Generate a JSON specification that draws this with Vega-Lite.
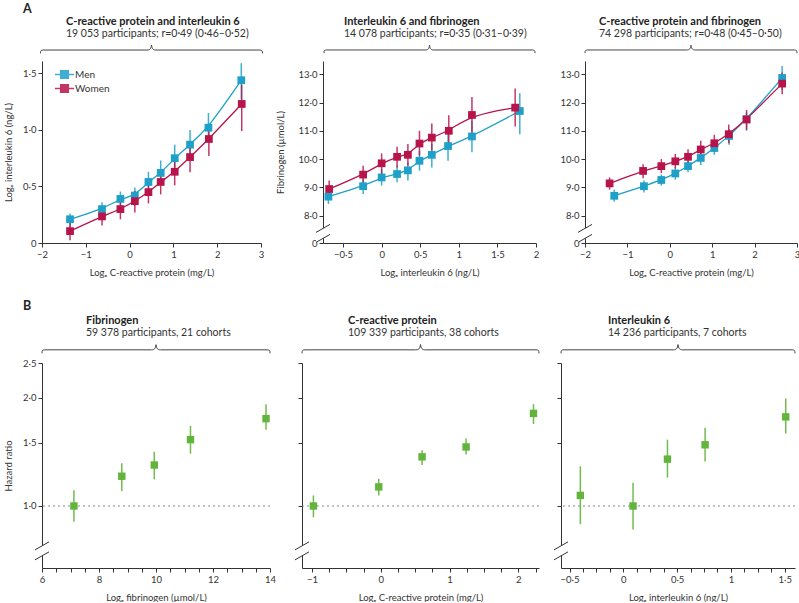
{
  "$schema": "https://vega.github.io/schema/vega-lite/v6.json",
  "padding": {"left": 3, "top": 2, "right": 0, "bottom": 0},
  "background": "white",
  "config": {
    "font": "Lato",
    "view": {"stroke": null},
    "axis": {"domainColor": "#333", "tickColor": "#333", "labelColor": "#333", "titleColor": "#333", "labelFontSize": 9.5, "titleFontSize": 9.5, "titleFontWeight": "normal", "tickSize": 4, "labelPadding": 2, "grid": false, "labelFlush": false, "labelOverlap": false},
    "axisX": {"titlePadding": 9},
    "title": {"anchor": "start", "frame": "group", "fontSize": 11, "fontWeight": "bold", "color": "#222", "subtitleFontSize": 10.5, "subtitleColor": "#333", "subtitlePadding": 2, "offset": 5}
  },
  "datasets": {
    "a1": [
      {"sex": "Men", "x": -1.36, "y": 0.21, "lo": 0.14, "hi": 0.26},
      {"sex": "Men", "x": -0.63, "y": 0.30, "lo": 0.24, "hi": 0.36},
      {"sex": "Men", "x": -0.21, "y": 0.39, "lo": 0.32, "hi": 0.455},
      {"sex": "Men", "x": 0.12, "y": 0.42, "lo": 0.33, "hi": 0.49},
      {"sex": "Men", "x": 0.43, "y": 0.54, "lo": 0.45, "hi": 0.63},
      {"sex": "Men", "x": 0.71, "y": 0.62, "lo": 0.51, "hi": 0.73},
      {"sex": "Men", "x": 1.03, "y": 0.75, "lo": 0.64, "hi": 0.87},
      {"sex": "Men", "x": 1.38, "y": 0.87, "lo": 0.74, "hi": 1.0},
      {"sex": "Men", "x": 1.80, "y": 1.02, "lo": 0.90, "hi": 1.15},
      {"sex": "Men", "x": 2.55, "y": 1.44, "lo": 1.27, "hi": 1.59},
      {"sex": "Women", "x": -1.36, "y": 0.105, "lo": 0.025, "hi": 0.21},
      {"sex": "Women", "x": -0.63, "y": 0.235, "lo": 0.155, "hi": 0.33},
      {"sex": "Women", "x": -0.21, "y": 0.30, "lo": 0.21, "hi": 0.40},
      {"sex": "Women", "x": 0.12, "y": 0.37, "lo": 0.27, "hi": 0.46},
      {"sex": "Women", "x": 0.43, "y": 0.45, "lo": 0.35, "hi": 0.55},
      {"sex": "Women", "x": 0.71, "y": 0.54, "lo": 0.43, "hi": 0.65},
      {"sex": "Women", "x": 1.03, "y": 0.63, "lo": 0.51, "hi": 0.74},
      {"sex": "Women", "x": 1.38, "y": 0.76, "lo": 0.625, "hi": 0.90},
      {"sex": "Women", "x": 1.81, "y": 0.92, "lo": 0.77, "hi": 1.05},
      {"sex": "Women", "x": 2.56, "y": 1.23, "lo": 0.99, "hi": 1.40}
    ],
    "a2": [
      {"sex": "Men", "x": -0.69, "y": 8.67, "lo": 8.41, "hi": 8.88},
      {"sex": "Men", "x": -0.24, "y": 9.04, "lo": 8.76, "hi": 9.29},
      {"sex": "Men", "x": 0.0, "y": 9.35, "lo": 9.06, "hi": 9.65},
      {"sex": "Men", "x": 0.20, "y": 9.47, "lo": 9.18, "hi": 9.76},
      {"sex": "Men", "x": 0.34, "y": 9.60, "lo": 9.24, "hi": 9.88},
      {"sex": "Men", "x": 0.49, "y": 9.94, "lo": 9.59, "hi": 10.29},
      {"sex": "Men", "x": 0.65, "y": 10.15, "lo": 9.70, "hi": 10.53},
      {"sex": "Men", "x": 0.86, "y": 10.46, "lo": 9.94, "hi": 10.88},
      {"sex": "Men", "x": 1.17, "y": 10.80, "lo": 10.24, "hi": 11.35},
      {"sex": "Men", "x": 1.79, "y": 11.70, "lo": 10.88, "hi": 12.33},
      {"sex": "Women", "x": -0.68, "y": 8.94, "lo": 8.65, "hi": 9.24},
      {"sex": "Women", "x": -0.24, "y": 9.45, "lo": 9.12, "hi": 9.76},
      {"sex": "Women", "x": 0.0, "y": 9.85, "lo": 9.47, "hi": 10.20},
      {"sex": "Women", "x": 0.20, "y": 10.08, "lo": 9.70, "hi": 10.44},
      {"sex": "Women", "x": 0.34, "y": 10.15, "lo": 9.76, "hi": 10.53},
      {"sex": "Women", "x": 0.49, "y": 10.55, "lo": 10.12, "hi": 11.00},
      {"sex": "Women", "x": 0.65, "y": 10.76, "lo": 10.30, "hi": 11.26},
      {"sex": "Women", "x": 0.87, "y": 11.00, "lo": 10.41, "hi": 11.55},
      {"sex": "Women", "x": 1.17, "y": 11.56, "lo": 10.94, "hi": 12.20},
      {"sex": "Women", "x": 1.73, "y": 11.82, "lo": 11.15, "hi": 12.50}
    ],
    "a3": [
      {"sex": "Men", "x": -1.31, "y": 8.70, "lo": 8.49, "hi": 8.92},
      {"sex": "Men", "x": -0.61, "y": 9.04, "lo": 8.82, "hi": 9.24},
      {"sex": "Men", "x": -0.20, "y": 9.26, "lo": 9.06, "hi": 9.45},
      {"sex": "Men", "x": 0.13, "y": 9.49, "lo": 9.27, "hi": 9.71},
      {"sex": "Men", "x": 0.43, "y": 9.75, "lo": 9.53, "hi": 9.96},
      {"sex": "Men", "x": 0.73, "y": 10.04, "lo": 9.79, "hi": 10.26},
      {"sex": "Men", "x": 1.05, "y": 10.39, "lo": 10.15, "hi": 10.62},
      {"sex": "Men", "x": 1.40, "y": 10.82, "lo": 10.51, "hi": 11.06},
      {"sex": "Men", "x": 1.81, "y": 11.41, "lo": 11.00, "hi": 11.65},
      {"sex": "Men", "x": 2.65, "y": 12.87, "lo": 12.45, "hi": 13.29},
      {"sex": "Women", "x": -1.42, "y": 9.14, "lo": 8.92, "hi": 9.35},
      {"sex": "Women", "x": -0.63, "y": 9.58, "lo": 9.32, "hi": 9.82},
      {"sex": "Women", "x": -0.20, "y": 9.75, "lo": 9.50, "hi": 10.00},
      {"sex": "Women", "x": 0.13, "y": 9.92, "lo": 9.67, "hi": 10.18},
      {"sex": "Women", "x": 0.43, "y": 10.08, "lo": 9.82, "hi": 10.35},
      {"sex": "Women", "x": 0.73, "y": 10.34, "lo": 10.06, "hi": 10.65},
      {"sex": "Women", "x": 1.05, "y": 10.56, "lo": 10.27, "hi": 10.86},
      {"sex": "Women", "x": 1.39, "y": 10.88, "lo": 10.56, "hi": 11.22},
      {"sex": "Women", "x": 1.81, "y": 11.40, "lo": 11.04, "hi": 11.74},
      {"sex": "Women", "x": 2.65, "y": 12.67, "lo": 12.29, "hi": 13.06}
    ],
    "b1": [
      {"x": 7.12, "hr": 1.00, "lo": 0.904, "hi": 1.106},
      {"x": 8.80, "hr": 1.21, "lo": 1.10, "hi": 1.315},
      {"x": 9.94, "hr": 1.30, "lo": 1.186, "hi": 1.416},
      {"x": 11.21, "hr": 1.53, "lo": 1.398, "hi": 1.67},
      {"x": 13.86, "hr": 1.75, "lo": 1.63, "hi": 1.92}
    ],
    "b2": [
      {"x": -0.98, "hr": 1.00, "lo": 0.93, "hi": 1.07},
      {"x": -0.03, "hr": 1.13, "lo": 1.07, "hi": 1.19},
      {"x": 0.60, "hr": 1.37, "lo": 1.30, "hi": 1.43},
      {"x": 1.24, "hr": 1.46, "lo": 1.39, "hi": 1.54},
      {"x": 2.22, "hr": 1.81, "lo": 1.69, "hi": 1.92}
    ],
    "b3": [
      {"x": -0.40, "hr": 1.07, "lo": 0.89, "hi": 1.29},
      {"x": 0.09, "hr": 1.00, "lo": 0.86, "hi": 1.16},
      {"x": 0.41, "hr": 1.35, "lo": 1.20, "hi": 1.53},
      {"x": 0.76, "hr": 1.48, "lo": 1.33, "hi": 1.65},
      {"x": 1.51, "hr": 1.77, "lo": 1.59, "hi": 1.99}
    ]
  },
  "resolve": {"scale": {"color": "independent"}, "legend": {"color": "independent"}},
  "spacing": 22,
  "vconcat": [
    {
      "title": {"text": "A", "fontSize": 12.5, "fontWeight": "bold", "dx": -19, "offset": 1},
      "spacing": 10,
      "resolve": {"scale": {"color": "independent"}, "legend": {"color": "independent"}},
      "hconcat": [
        {
          "width": 219, "height": 182,
          "title": {"text": "C-reactive protein and interleukin 6", "subtitle": "19 053 participants; r=0·49 (0·46–0·52)", "dx": 24, "offset": 3.5},
          "data": {"name": "a1"},
          "layer": [
            {"data": {"values": [{}]}, "mark": {"type": "point", "shape": "M-1,0.03 C-1,0.005 -0.995,0 -0.975,0 L-0.04,0 C-0.015,0 -0.005,-0.01 0,-0.045 C0.005,-0.01 0.015,0 0.04,0 L0.975,0 C0.995,0 1,0.005 1,0.03", "filled": false, "size": 49284, "stroke": "#444", "strokeWidth": 1, "opacity": 1},
             "encoding": {"x": {"datum": 0.5, "type": "quantitative"}, "y": {"datum": 1.707, "type": "quantitative"}}},
            {"mark": {"type": "line", "interpolate": "basis", "strokeWidth": 1.3},
             "encoding": {
               "x": {"field": "x", "type": "quantitative", "scale": {"domain": [-2, 3], "nice": false, "zero": false}, "axis": {"title": "Logₑ C-reactive protein (mg/L)", "values": [-2, -1, 0, 1, 2, 3], "tickCount": 50, "labelExpr": "replace(format(datum.value, 'd'), '-', '−')", "labelOverlap": false}},
               "y": {"field": "y", "type": "quantitative", "scale": {"domain": [0, 1.61], "nice": false, "zero": false}, "axis": {"title": "Logₑ interleukin 6 (ng/L)", "values": [0, 0.5, 1, 1.5], "tickCount": 50, "labelExpr": "datum.value === 0 ? '0' : replace(format(datum.value, '.1f'), '.', '·')", "minExtent": 20, "titlePadding": 9, "labelOverlap": false}},
               "color": {"field": "sex", "type": "nominal", "scale": {"domain": ["Men", "Women"], "range": ["#1ea0c8", "#b7144b"]},
                 "legend": {"title": null, "orient": "none", "legendX": 17, "legendY": 8, "symbolType": "M-2,0L2,0M-0.8,-0.8L0.8,-0.8L0.8,0.8L-0.8,0.8Z", "symbolSize": 90, "symbolStrokeWidth": 1.5, "labelOffset": 5, "labelFontSize": 10, "labelColor": "#333", "rowPadding": -1, "padding": 0}}
             }},
            {"mark": {"type": "rule", "strokeWidth": 1.5, "opacity": 0.85},
             "encoding": {"x": {"field": "x", "type": "quantitative"}, "y": {"field": "lo", "type": "quantitative"}, "y2": {"field": "hi"}, "color": {"field": "sex", "type": "nominal"}}},
            {"mark": {"type": "point", "shape": "square", "filled": true, "size": 60, "opacity": 1},
             "encoding": {"x": {"field": "x", "type": "quantitative"}, "y": {"field": "y", "type": "quantitative"}, "color": {"field": "sex", "type": "nominal"}}}
          ]
        },
        {
          "width": 213, "height": 182,
          "title": {"text": "Interleukin 6 and fibrinogen", "subtitle": "14 078 participants; r=0·35 (0·31–0·39)", "dx": 21, "offset": 3.5},
          "data": {"name": "a2"},
          "layer": [
            {"data": {"values": [{}]}, "mark": {"type": "point", "shape": "M-1,0.03 C-1,0.005 -0.995,0 -0.975,0 L-0.04,0 C-0.015,0 -0.005,-0.01 0,-0.045 C0.005,-0.01 0.015,0 0.04,0 L0.975,0 C0.995,0 1,0.005 1,0.03", "filled": false, "size": 44521, "stroke": "#444", "strokeWidth": 1, "opacity": 1},
             "encoding": {"x": {"datum": 0.62, "type": "quantitative"}, "y": {"datum": 13.86, "type": "quantitative"}}},
            {"data": {"values": [{}]}, "mark": {"type": "point", "shape": "M-0.7,-0.1L0.7,-0.9L0.7,0.1L-0.7,0.9Z", "filled": true, "fill": "white", "strokeWidth": 0, "size": 400, "opacity": 1},
             "encoding": {"x": {"datum": -0.76, "type": "quantitative"}, "y": {"datum": 7.37, "type": "quantitative"}}},
            {"data": {"values": [{}]}, "mark": {"type": "point", "shape": "M-0.7,-0.1L0.7,-0.9M-0.7,0.9L0.7,0.1", "filled": false, "stroke": "#333", "strokeWidth": 1, "size": 400, "opacity": 1},
             "encoding": {"x": {"datum": -0.76, "type": "quantitative"}, "y": {"datum": 7.37, "type": "quantitative"}}},
            {"mark": {"type": "line", "interpolate": "basis", "strokeWidth": 1.3},
             "encoding": {
               "x": {"field": "x", "type": "quantitative", "scale": {"domain": [-0.76, 2], "nice": false, "zero": false}, "axis": {"title": "Logₑ interleukin 6 (ng/L)", "values": [-0.5, 0, 0.5, 1, 1.5, 2], "tickCount": 50, "labelExpr": "replace(replace(format(datum.value, '~g'), '.', '·'), '-', '−')", "labelOverlap": false}},
               "y": {"field": "y", "type": "quantitative", "scale": {"domain": [7.03, 13.47], "nice": false, "zero": false}, "axis": {"title": "Fibrinogen (µmol/L)", "values": [7.03, 8, 9, 10, 11, 12, 13], "tickCount": 50, "labelExpr": "datum.value < 7.5 ? '0' : replace(format(datum.value, '.1f'), '.', '·')", "minExtent": 28, "titlePadding": 10, "labelOverlap": false}},
               "color": {"field": "sex", "type": "nominal", "scale": {"domain": ["Men", "Women"], "range": ["#1ea0c8", "#b7144b"]}, "legend": null}
             }},
            {"mark": {"type": "rule", "strokeWidth": 1.5, "opacity": 0.85},
             "encoding": {"x": {"field": "x", "type": "quantitative"}, "y": {"field": "lo", "type": "quantitative"}, "y2": {"field": "hi"}, "color": {"field": "sex", "type": "nominal", "legend": null}}},
            {"mark": {"type": "point", "shape": "square", "filled": true, "size": 60, "opacity": 1},
             "encoding": {"x": {"field": "x", "type": "quantitative"}, "y": {"field": "y", "type": "quantitative"}, "color": {"field": "sex", "type": "nominal", "legend": null}}}
          ]
        },
        {
          "width": 212, "height": 182,
          "title": {"text": "C-reactive protein and fibrinogen", "subtitle": "74 298 participants; r=0·48 (0·45–0·50)", "dx": 14, "offset": 3.5},
          "data": {"name": "a3"},
          "layer": [
            {"data": {"values": [{}]}, "mark": {"type": "point", "shape": "M-1,0.03 C-1,0.005 -0.995,0 -0.975,0 L-0.04,0 C-0.015,0 -0.005,-0.01 0,-0.045 C0.005,-0.01 0.015,0 0.04,0 L0.975,0 C0.995,0 1,0.005 1,0.03", "filled": false, "size": 44944, "stroke": "#444", "strokeWidth": 1, "opacity": 1},
             "encoding": {"x": {"datum": 0.5, "type": "quantitative"}, "y": {"datum": 13.86, "type": "quantitative"}}},
            {"data": {"values": [{}]}, "mark": {"type": "point", "shape": "M-0.7,-0.1L0.7,-0.9L0.7,0.1L-0.7,0.9Z", "filled": true, "fill": "white", "strokeWidth": 0, "size": 400, "opacity": 1},
             "encoding": {"x": {"datum": -2, "type": "quantitative"}, "y": {"datum": 7.37, "type": "quantitative"}}},
            {"data": {"values": [{}]}, "mark": {"type": "point", "shape": "M-0.7,-0.1L0.7,-0.9M-0.7,0.9L0.7,0.1", "filled": false, "stroke": "#333", "strokeWidth": 1, "size": 400, "opacity": 1},
             "encoding": {"x": {"datum": -2, "type": "quantitative"}, "y": {"datum": 7.37, "type": "quantitative"}}},
            {"mark": {"type": "line", "interpolate": "basis", "strokeWidth": 1.3},
             "encoding": {
               "x": {"field": "x", "type": "quantitative", "scale": {"domain": [-2, 3], "nice": false, "zero": false}, "axis": {"title": "Logₑ C-reactive protein (mg/L)", "values": [-2, -1, 0, 1, 2, 3], "tickCount": 50, "labelExpr": "replace(format(datum.value, 'd'), '-', '−')", "labelOverlap": false}},
               "y": {"field": "y", "type": "quantitative", "scale": {"domain": [7.03, 13.47], "nice": false, "zero": false}, "axis": {"title": null, "values": [7.03, 8, 9, 10, 11, 12, 13], "tickCount": 50, "labelExpr": "datum.value < 7.5 ? '0' : replace(format(datum.value, '.1f'), '.', '·')", "minExtent": 36, "labelOverlap": false}},
               "color": {"field": "sex", "type": "nominal", "scale": {"domain": ["Men", "Women"], "range": ["#1ea0c8", "#b7144b"]}, "legend": null}
             }},
            {"mark": {"type": "rule", "strokeWidth": 1.5, "opacity": 0.85},
             "encoding": {"x": {"field": "x", "type": "quantitative"}, "y": {"field": "lo", "type": "quantitative"}, "y2": {"field": "hi"}, "color": {"field": "sex", "type": "nominal", "legend": null}}},
            {"mark": {"type": "point", "shape": "square", "filled": true, "size": 60, "opacity": 1},
             "encoding": {"x": {"field": "x", "type": "quantitative"}, "y": {"field": "y", "type": "quantitative"}, "color": {"field": "sex", "type": "nominal", "legend": null}}}
          ]
        }
      ]
    },
    {
      "title": {"text": "B", "fontSize": 12.5, "fontWeight": "bold", "dx": -19, "offset": 3},
      "spacing": 9,
      "hconcat": [
        {
          "width": 228, "height": 205,
          "title": {"text": "Fibrinogen", "subtitle": "59 378 participants, 21 cohorts", "dx": 44, "offset": 4},
          "data": {"name": "b1"},
          "layer": [
            {"data": {"values": [{}]}, "mark": {"type": "point", "shape": "M-1,0.03 C-1,0.005 -0.995,0 -0.975,0 L-0.04,0 C-0.015,0 -0.005,-0.01 0,-0.045 C0.005,-0.01 0.015,0 0.04,0 L0.975,0 C0.995,0 1,0.005 1,0.03", "filled": false, "size": 51984, "stroke": "#444", "strokeWidth": 1, "opacity": 1},
             "encoding": {"x": {"datum": 10, "type": "quantitative"}, "y": {"datum": 2.72, "type": "quantitative"}}},
            {"data": {"values": [{}]}, "mark": {"type": "rule", "strokeDash": [2, 3], "color": "#7d8b96", "strokeWidth": 1},
             "encoding": {"y": {"datum": 1, "type": "quantitative"}}},
            {"data": {"values": [{}]}, "mark": {"type": "point", "shape": "M-0.7,-0.1L0.7,-0.9L0.7,0.1L-0.7,0.9Z", "filled": true, "fill": "white", "strokeWidth": 0, "size": 400, "opacity": 1},
             "encoding": {"x": {"datum": 6, "type": "quantitative"}, "y": {"datum": 0.75, "type": "quantitative"}}},
            {"data": {"values": [{}]}, "mark": {"type": "point", "shape": "M-0.7,-0.1L0.7,-0.9M-0.7,0.9L0.7,0.1", "filled": false, "stroke": "#333", "strokeWidth": 1, "size": 400, "opacity": 1},
             "encoding": {"x": {"datum": 6, "type": "quantitative"}, "y": {"datum": 0.75, "type": "quantitative"}}},
            {"mark": {"type": "rule", "strokeWidth": 1.5, "color": "#62b43c", "opacity": 0.9},
             "encoding": {"x": {"field": "x", "type": "quantitative"}, "y": {"field": "lo", "type": "quantitative"}, "y2": {"field": "hi"}}},
            {"mark": {"type": "point", "shape": "square", "filled": true, "size": 55, "color": "#62b43c", "opacity": 1},
             "encoding": {
               "x": {"field": "x", "type": "quantitative", "scale": {"domain": [6, 14], "nice": false, "zero": false}, "axis": {"title": "Logₑ fibrinogen (µmol/L)", "values": [6, 6.5, 7, 7.5, 8, 8.5, 9, 9.5, 10, 10.5, 11, 11.5, 12, 12.5, 13, 13.5, 14], "tickCount": 50, "labelExpr": "datum.value % 2 === 0 ? format(datum.value, 'd') : ''", "labelOverlap": false}},
               "y": {"field": "hr", "type": "quantitative", "scale": {"type": "log", "domain": [0.672, 2.5], "nice": false, "zero": false}, "axis": {"title": "Hazard ratio", "values": [1, 1.5, 2, 2.5], "tickCount": 50, "labelExpr": "replace(format(datum.value, '.1f'), '.', '·')", "minExtent": 20, "titlePadding": 9, "labelOverlap": false}}
             }}
          ]
        },
        {
          "width": 237, "height": 205,
          "title": {"text": "C-reactive protein", "subtitle": "109 339 participants, 38 cohorts", "dx": 46, "offset": 4},
          "data": {"name": "b2"},
          "layer": [
            {"data": {"values": [{}]}, "mark": {"type": "point", "shape": "M-1,0.03 C-1,0.005 -0.995,0 -0.975,0 L-0.04,0 C-0.015,0 -0.005,-0.01 0,-0.045 C0.005,-0.01 0.015,0 0.04,0 L0.975,0 C0.995,0 1,0.005 1,0.03", "filled": false, "size": 56169, "stroke": "#444", "strokeWidth": 1, "opacity": 1},
             "encoding": {"x": {"datum": 0.577, "type": "quantitative"}, "y": {"datum": 2.72, "type": "quantitative"}}},
            {"data": {"values": [{}]}, "mark": {"type": "rule", "strokeDash": [2, 3], "color": "#7d8b96", "strokeWidth": 1},
             "encoding": {"y": {"datum": 1, "type": "quantitative"}}},
            {"data": {"values": [{}]}, "mark": {"type": "point", "shape": "M-0.7,-0.1L0.7,-0.9L0.7,0.1L-0.7,0.9Z", "filled": true, "fill": "white", "strokeWidth": 0, "size": 400, "opacity": 1},
             "encoding": {"x": {"datum": -1.146, "type": "quantitative"}, "y": {"datum": 0.75, "type": "quantitative"}}},
            {"data": {"values": [{}]}, "mark": {"type": "point", "shape": "M-0.7,-0.1L0.7,-0.9M-0.7,0.9L0.7,0.1", "filled": false, "stroke": "#333", "strokeWidth": 1, "size": 400, "opacity": 1},
             "encoding": {"x": {"datum": -1.146, "type": "quantitative"}, "y": {"datum": 0.75, "type": "quantitative"}}},
            {"mark": {"type": "rule", "strokeWidth": 1.5, "color": "#62b43c", "opacity": 0.9},
             "encoding": {"x": {"field": "x", "type": "quantitative"}, "y": {"field": "lo", "type": "quantitative"}, "y2": {"field": "hi"}}},
            {"mark": {"type": "point", "shape": "square", "filled": true, "size": 55, "color": "#62b43c", "opacity": 1},
             "encoding": {
               "x": {"field": "x", "type": "quantitative", "scale": {"domain": [-1.146, 2.3], "nice": false, "zero": false}, "axis": {"title": "Logₑ C-reactive protein (mg/L)", "values": [-1, -0.75, -0.5, -0.25, 0, 0.25, 0.5, 0.75, 1, 1.25, 1.5, 1.75, 2, 2.25], "tickCount": 50, "labelExpr": "datum.value % 1 === 0 ? replace(format(datum.value, 'd'), '-', '−') : ''", "labelOverlap": false}},
               "y": {"field": "hr", "type": "quantitative", "scale": {"type": "log", "domain": [0.672, 2.5], "nice": false, "zero": false}, "axis": {"title": null, "values": [1, 1.5, 2, 2.5], "tickCount": 50, "labels": false, "minExtent": 17}}
             }}
          ]
        },
        {
          "width": 234, "height": 205,
          "title": {"text": "Interleukin 6", "subtitle": "14 236 participants, 7 cohorts", "dx": 47, "offset": 4},
          "data": {"name": "b3"},
          "layer": [
            {"data": {"values": [{}]}, "mark": {"type": "point", "shape": "M-1,0.03 C-1,0.005 -0.995,0 -0.975,0 L-0.04,0 C-0.015,0 -0.005,-0.01 0,-0.045 C0.005,-0.01 0.015,0 0.04,0 L0.975,0 C0.995,0 1,0.005 1,0.03", "filled": false, "size": 54756, "stroke": "#444", "strokeWidth": 1, "opacity": 1},
             "encoding": {"x": {"datum": 0.508, "type": "quantitative"}, "y": {"datum": 2.72, "type": "quantitative"}}},
            {"data": {"values": [{}]}, "mark": {"type": "rule", "strokeDash": [2, 3], "color": "#7d8b96", "strokeWidth": 1},
             "encoding": {"y": {"datum": 1, "type": "quantitative"}}},
            {"data": {"values": [{}]}, "mark": {"type": "point", "shape": "M-0.7,-0.1L0.7,-0.9L0.7,0.1L-0.7,0.9Z", "filled": true, "fill": "white", "strokeWidth": 0, "size": 400, "opacity": 1},
             "encoding": {"x": {"datum": -0.58, "type": "quantitative"}, "y": {"datum": 0.75, "type": "quantitative"}}},
            {"data": {"values": [{}]}, "mark": {"type": "point", "shape": "M-0.7,-0.1L0.7,-0.9M-0.7,0.9L0.7,0.1", "filled": false, "stroke": "#333", "strokeWidth": 1, "size": 400, "opacity": 1},
             "encoding": {"x": {"datum": -0.58, "type": "quantitative"}, "y": {"datum": 0.75, "type": "quantitative"}}},
            {"mark": {"type": "rule", "strokeWidth": 1.5, "color": "#62b43c", "opacity": 0.9},
             "encoding": {"x": {"field": "x", "type": "quantitative"}, "y": {"field": "lo", "type": "quantitative"}, "y2": {"field": "hi"}}},
            {"mark": {"type": "point", "shape": "square", "filled": true, "size": 55, "color": "#62b43c", "opacity": 1},
             "encoding": {
               "x": {"field": "x", "type": "quantitative", "scale": {"domain": [-0.58, 1.596], "nice": false, "zero": false}, "axis": {"title": "Logₑ interleukin 6 (ng/L)", "values": [-0.5, -0.375, -0.25, -0.125, 0, 0.125, 0.25, 0.375, 0.5, 0.625, 0.75, 0.875, 1, 1.125, 1.25, 1.375, 1.5], "tickCount": 50, "labelExpr": "(datum.value * 2) % 1 === 0 ? replace(replace(format(datum.value, '~g'), '.', '·'), '-', '−') : ''", "labelOverlap": false}},
               "y": {"field": "hr", "type": "quantitative", "scale": {"type": "log", "domain": [0.672, 2.5], "nice": false, "zero": false}, "axis": {"title": null, "values": [1, 1.5, 2, 2.5], "tickCount": 50, "labels": false, "minExtent": 11}}
             }}
          ]
        }
      ]
    }
  ]
}
